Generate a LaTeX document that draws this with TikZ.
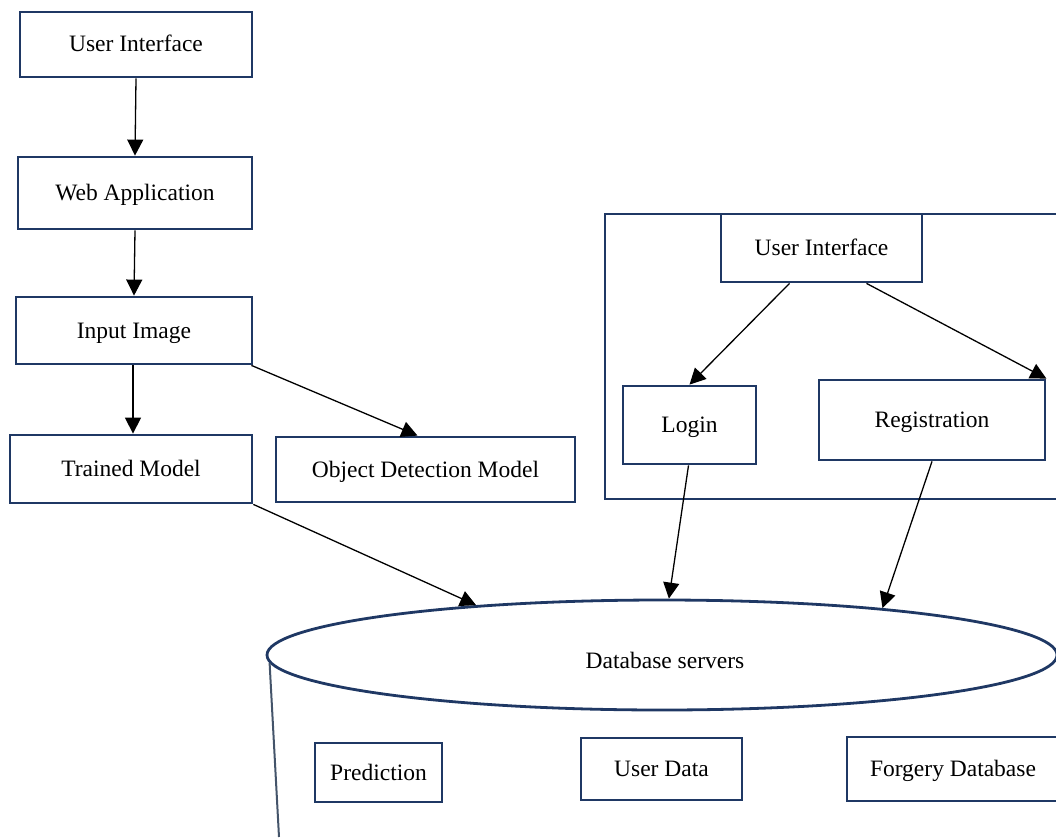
\documentclass[tikz,border=0pt]{standalone}
\usepackage{fontspec}
\setmainfont{Liberation Serif}
\usepackage{xcolor}
\usetikzlibrary{arrows.meta, shapes.geometric}
\definecolor{navy}{HTML}{1F3864}
\definecolor{slate}{HTML}{44546A}
\tikzset{
	blk/.style={draw=navy, line width=2.8pt, rectangle, inner sep=0pt, text height=18pt, text depth=3pt},
	flow/.style={-{Triangle[length=16pt, width=16pt]}, line width=1.3pt, black},
	sideline/.style={draw=slate, line width=2pt}
}

\begin{document}
\begin{tikzpicture}[x=1pt, y=-1pt, font=\fontsize{23.5}{28}\selectfont]

		\useasboundingbox (0, 0) rectangle (1056, 837);

		\node[blk, minimum width=232pt, minimum height=65pt] (ui) at (136, 44.5) {User Interface};
		\node[blk, minimum width=234pt, minimum height=72pt] (web) at (135, 193) {Web Application};
		\node[blk, minimum width=236pt, minimum height=67pt] (inp) at (134, 330.5) {Input Image};
		\node[blk, minimum width=242pt, minimum height=68pt] (trained) at (131, 469) {Trained Model};
		\node[blk, minimum width=299pt, minimum height=65pt] (odm) at (425.5, 469.5) {Object Detection Model};

		\draw[draw=navy, line width=2.8pt] (1075, 214) -- (605, 214) -- (605, 499) -- (1075, 499);
		\node[blk, minimum width=201pt, minimum height=68pt] (ui2) at (821.5, 248) {User Interface};
		\node[blk, minimum width=133pt, minimum height=78pt] (login) at (689.5, 425) {Login};
		\node[blk, minimum width=226pt, minimum height=80pt] (reg) at (932, 420) {Registration};

		\node[ellipse, draw=navy, line width=2.8pt, minimum width=790pt, minimum height=110pt, inner sep=0pt] (db) at (662, 655) {};
		\node (dbtext) at (665, 660) {Database servers};
		\coordinate (cylbot) at (279, 837);
		\draw[sideline] ([shift={(4, 8)}]db.west) -- (cylbot);

		\node[blk, minimum width=127pt, minimum height=59pt] (pred) at (378.5, 772.5) {Prediction};
		\node[blk, minimum width=161pt, minimum height=62pt] (udata) at (661.5, 769) {User Data};
		\node[blk, minimum width=212pt, minimum height=64pt] (forg) at (953, 769) {Forgery Database};

		\draw[flow] (ui.south) -- (web.north);
		\draw[flow] (web.south) -- (inp.north);
		\draw[flow] ([xshift=-1pt]inp.south) -- ([xshift=2pt]trained.north);
		\draw[flow] ([xshift=-2pt]inp.south east) -- ([xshift=-8pt]odm.north);
		\draw[flow] (trained.south east) -- (db.165.2);

		\draw[flow] ([xshift=-32pt]ui2.south) -- (login.north);
		\draw[flow] ([xshift=45pt]ui2.south) -- (reg.north east);
		\draw[flow] ([xshift=-1pt]login.south) -- (db.83.8);
		\draw[flow] (reg.south) -- (db.12.7);

	\end{tikzpicture}
\end{document}
